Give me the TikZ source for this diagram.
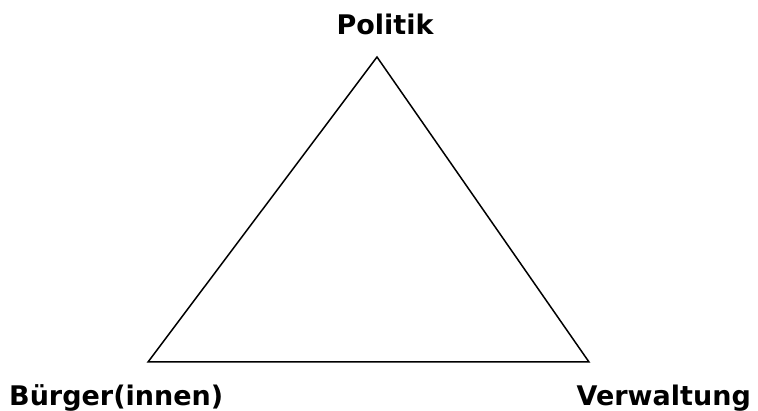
\documentclass[tikz,border=0pt]{standalone}
\usepackage{fontspec}
\setmainfont{DejaVu Sans}
\begin{document}
\begin{tikzpicture}[x=1pt,y=-1pt,
  lbl/.style={inner sep=0pt,font=\fontsize{27}{31}\selectfont\bfseries},
  edge/.style={line width=1.5pt,line join=miter}]
\useasboundingbox (0,0) rectangle (758,411);
\coordinate (top) at (377,57);
\coordinate (bl) at (148,362);
\coordinate (br) at (589,362);
\draw[edge] (top) -- (bl) -- (br) -- cycle;
\node[lbl,anchor=base] (pol) at (385,35) {Politik};
\node[lbl,anchor=base west] (bur) at (9,406) {Bürger(innen)};
\node[lbl,anchor=base east] (ver) at (751,406) {Verwaltung};
\end{tikzpicture}
\end{document}
